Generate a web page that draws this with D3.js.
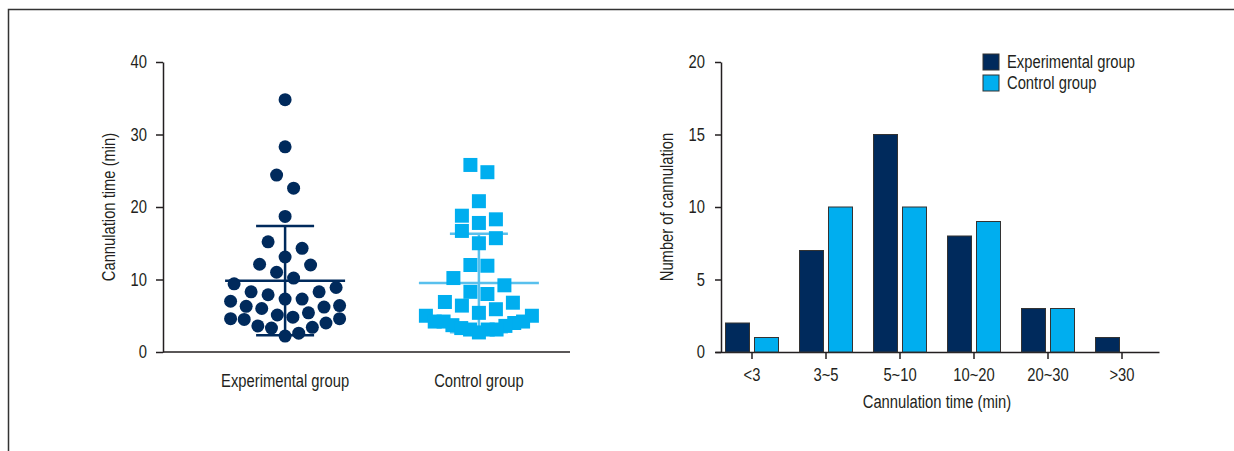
<!DOCTYPE html>
<html>
<head>
<meta charset="utf-8">
<script src="https://cdn.jsdelivr.net/npm/d3@7"></script>
<style>
  body { margin: 0; background: #fff; }
  svg { display: block; }
  text { font-family: "Liberation Sans", Arial, sans-serif; font-size: 18px; fill: #231f20; }
</style>
</head>
<body>
<div id="chart"></div>
<script>
// scatter (dot plot) values, minutes
var groups = ["Experimental group", "Control group"];
var experimental = [34.8, 28.3, 24.4, 22.6, 18.7, 15.2, 14.3, 13.1, 12.1, 12.0, 11.0, 10.2,
    9.4, 8.9, 8.3, 8.3, 7.9, 7.3, 7.3, 7.0, 6.2, 6.0, 6.3, 6.4, 5.4, 5.1, 4.6, 4.6, 4.8,
    4.5, 4.0, 3.6, 3.3, 3.4, 2.6, 2.2];
var control = [25.8, 24.8, 20.8, 18.3, 18.8, 17.8, 16.7, 15.7, 15.0, 11.9, 12.0, 10.2,
    9.2, 8.0, 8.3, 6.8, 5.9, 6.4, 6.9, 5.4, 5.0, 5.0, 4.2, 4.0, 3.7, 3.1, 3.1, 3.1, 3.3,
    4.2, 4.2, 3.6, 2.7];
var scatterTicks = [0, 10, 20, 30, 40];

// histogram counts
var categories = ["<3", "3~5", "5~10", "10~20", "20~30", ">30"];
var series = ["Experimental group", "Control group"];
var expCounts = [2, 7, 15, 8, 3, 1];
var ctrlCounts = [1, 10, 10, 9, 3, 0];
var barTicks = [0, 5, 10, 15, 20];

var dark = "#002a5c", light = "#00aeef", ink = "#231f20";

var svg = d3.select("#chart").append("svg")
    .attr("width", 1234)
    .attr("height", 451);

// panel frame (top + left only)
svg.append("path")
    .attr("d", "M8.5,451V9.5H1234")
    .attr("fill", "none")
    .attr("stroke", "#333")
    .attr("stroke-width", 1.5);

function styleAxis(g) {
    g.select(".domain").attr("stroke", ink).attr("stroke-width", 1.5);
    g.selectAll(".tick line").attr("stroke", ink).attr("stroke-width", 1.5);
    g.selectAll(".tick text").attr("font-size", null).attr("font-family", null).style("fill", ink);
}

/* ---------- left: dot plot ---------- */
var y1 = d3.scaleLinear().domain([0, 40]).range([352, 62]);
var xg = d3.scalePoint().domain(groups).range([163, 601]).padding(0.63);

var left = svg.append("g");

left.append("g")
    .attr("transform", "translate(163,0)")
    .call(d3.axisLeft(y1).tickValues(scatterTicks).tickSize(7).tickPadding(9).tickSizeOuter(0))
    .call(styleAxis);

left.append("line")
    .attr("x1", 163).attr("x2", 570)
    .attr("y1", y1(0)).attr("y2", y1(0))
    .attr("stroke", ink).attr("stroke-width", 1.5);

left.selectAll(".glabel").data(groups).enter().append("text")
    .attr("x", function (d) { return xg(d); })
    .attr("y", 387)
    .attr("text-anchor", "middle")
    .text(function (d) { return d; });

left.append("text")
    .attr("transform", "translate(115," + ((y1(0) + y1(40)) / 2) + ") rotate(-90)")
    .attr("text-anchor", "middle")
    .text("Cannulation time (min)");

// Prism-style scatter: group values into rows (from the bottom), spread each
// row symmetrically, highest values to the outside, squeezing wide rows
function rowLayout(vals, cx, rowH, step, maxHalf) {
    var sorted = vals.slice().sort(d3.ascending);
    var rowsOut = [], i = 0;
    while (i < sorted.length) {
        var start = sorted[i], row = [];
        while (i < sorted.length && sorted[i] < start + rowH) { row.push(sorted[i]); i++; }
        rowsOut.push(row);
    }
    var pts = [];
    rowsOut.forEach(function (row) {
        var n = row.length;
        var s = n > 1 ? Math.min(step, 2 * maxHalf / (n - 1)) : 0;
        var slots = d3.range(n).map(function (k) { return cx + (k - (n - 1) / 2) * s; });
        var desc = row.slice().sort(d3.descending);
        var lo = 0, hi = n - 1;
        desc.forEach(function (v, k) {
            var x = (k % 2 === 0) ? slots[lo++] : slots[hi--];
            pts.push({ v: v, x: x, y: y1(v) });
        });
    });
    return pts;
}

function errorBars(g, vals, cx, color, opacity) {
    var m = d3.mean(vals), sd = d3.deviation(vals);
    var eb = g.append("g").attr("stroke", color).attr("stroke-width", 2.5).attr("opacity", opacity);
    eb.append("line").attr("x1", cx - 60).attr("x2", cx + 60).attr("y1", y1(m)).attr("y2", y1(m));
    eb.append("line").attr("x1", cx).attr("x2", cx).attr("y1", y1(m - sd)).attr("y2", y1(m + sd));
    eb.append("line").attr("x1", cx - 29).attr("x2", cx + 29).attr("y1", y1(m + sd)).attr("y2", y1(m + sd));
    eb.append("line").attr("x1", cx - 29).attr("x2", cx + 29).attr("y1", y1(m - sd)).attr("y2", y1(m - sd));
}

var cxE = xg(groups[0]), cxC = xg(groups[1]);

errorBars(left, experimental, cxE, dark, 1);
left.selectAll(".dot").data(rowLayout(experimental, cxE, 2.5, 17, 54.5)).enter().append("circle")
    .attr("cx", function (d) { return d.x; })
    .attr("cy", function (d) { return d.y; })
    .attr("r", 6.5)
    .attr("fill", dark);

errorBars(left, control, cxC, "#3cb6ea", 0.85);
left.selectAll(".sq").data(rowLayout(control, cxC, 2.5, 17, 53)).enter().append("rect")
    .attr("x", function (d) { return d.x - 7; })
    .attr("y", function (d) { return d.y - 7; })
    .attr("width", 14)
    .attr("height", 14)
    .attr("fill", light);

/* ---------- right: grouped bars ---------- */
var y2 = d3.scaleLinear().domain([0, 20]).range([352, 62]);
var x0 = d3.scaleBand().domain(categories).range([715, 1159]);
var x1 = d3.scaleBand().domain(series).range([-26.5, 26.5]).paddingInner(0.1724);

var right = svg.append("g");

right.append("g")
    .attr("transform", "translate(721,0)")
    .call(d3.axisLeft(y2).tickValues(barTicks).tickSize(6).tickPadding(10).tickSizeOuter(0))
    .call(styleAxis);

right.append("g")
    .attr("transform", "translate(0," + y2(0) + ")")
    .call(d3.axisBottom(x0).tickSize(7).tickPadding(9).tickSizeOuter(0))
    .call(styleAxis);

var rows = categories.map(function (c, i) {
    return { cat: c, vals: [{ s: series[0], v: expCounts[i] }, { s: series[1], v: ctrlCounts[i] }] };
});

right.selectAll(".cat").data(rows).enter().append("g")
    .attr("transform", function (d) { return "translate(" + (x0(d.cat) + x0.bandwidth() / 2) + ",0)"; })
    .selectAll("rect").data(function (d) { return d.vals.filter(function (e) { return e.v > 0; }); })
    .enter().append("rect")
    .attr("x", function (d) { return x1(d.s); })
    .attr("y", function (d) { return y2(d.v); })
    .attr("width", x1.bandwidth())
    .attr("height", function (d) { return y2(0) - y2(d.v); })
    .attr("fill", function (d) { return d.s === series[0] ? dark : light; })
    .attr("stroke", "#333")
    .attr("stroke-width", 1);

right.append("text")
    .attr("transform", "translate(673," + ((y2(0) + y2(20)) / 2) + ") rotate(-90)")
    .attr("text-anchor", "middle")
    .text("Number of cannulation");

right.append("text")
    .attr("x", (715 + 1159) / 2)
    .attr("y", 408)
    .attr("text-anchor", "middle")
    .text("Cannulation time (min)");

// legend
var leg = right.selectAll(".leg").data(series).enter().append("g")
    .attr("transform", function (d, i) { return "translate(983," + (54 + i * 21) + ")"; });
leg.append("rect")
    .attr("width", 16).attr("height", 16)
    .attr("fill", function (d, i) { return i === 0 ? dark : light; })
    .attr("stroke", "#333").attr("stroke-width", 1);
leg.append("text")
    .attr("x", 24).attr("y", 14)
    .text(function (d) { return d; });

// the source uses a condensed face: squeeze every label horizontally
svg.selectAll("text").each(function () {
    var w = this.getComputedTextLength();
    d3.select(this).attr("textLength", w * 0.82).attr("lengthAdjust", "spacingAndGlyphs");
});
</script>
</body>
</html>
